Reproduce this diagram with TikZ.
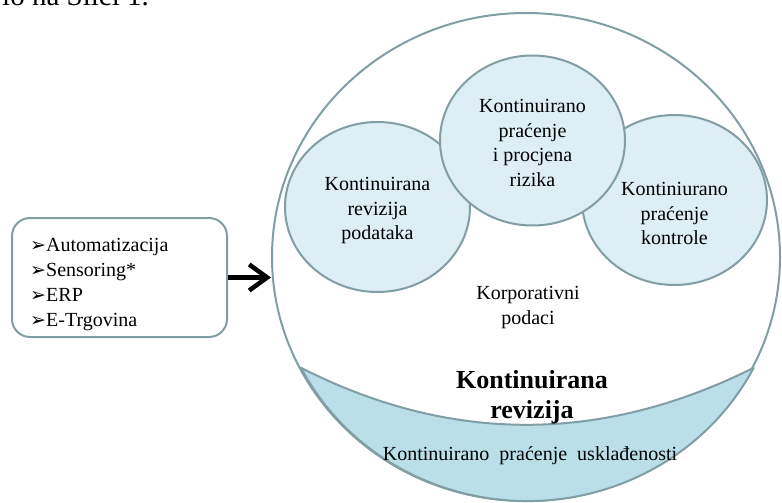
\documentclass[tikz,border=0pt]{standalone}
\usepackage{fontspec}
\setmainfont{Liberation Serif}
\newfontfamily\dejavu{DejaVu Sans}
\usetikzlibrary{shapes.geometric,arrows.meta}
\definecolor{edgec}{HTML}{809EA3}
\definecolor{lightfill}{HTML}{DDEEF4}
\definecolor{bowlfill}{HTML}{BADFE9}
\begin{document}
\begin{tikzpicture}[x=1pt,y=1pt,
  oval/.style={ellipse, draw=edgec, line width=2pt, fill=lightfill,
    minimum width=185pt, minimum height=170pt, inner sep=0pt},
  txt/.style={align=center, inner sep=0pt, font=\fontsize{20}{24.5}\selectfont},
  item/.style={anchor=base west, inner sep=0pt, font=\fontsize{20}{25}\selectfont}]
\useasboundingbox (0,0) rectangle (782,-503);
% cut-off page text at top
\begin{scope}
  \clip (0,0) rectangle (782,-503);
  \node[anchor=base west, inner sep=0pt, font=\fontsize{29}{34}\selectfont] (frag) at (2,-6) {lo na Slici 1.};
\end{scope}
% big circle
\node[ellipse, draw=edgec, line width=2pt, fill=white, minimum width=508pt,
  minimum height=488pt, inner sep=0pt] (big) at (526,-257) {};
% small circles
\node[oval] (c1) at (377.5,-207) {};
\node[oval] (c3) at (674.5,-200) {};
\node[oval] (c2) at (532.5,-140.5) {};
% bowl
\path[fill=bowlfill, draw=edgec, line width=2pt, line join=round]
  (301,-367.8) arc[start angle=207, end angle=333, x radius=254, y radius=244]
  .. controls (601.4,-443.8) and (450.6,-443.8) .. (301,-367.8) -- cycle;
% texts
\node[txt] (t1) at (377.5,-210.6) {Kontinuirana\\revizija\\podataka};
\node[txt] (t2) at (532.5,-142.9) {Kontinuirano\\praćenje\\i procjena\\rizika};
\node[txt] (t3) at (674.5,-213.9) {Kontiniurano\\praćenje\\kontrole};
\node[txt, font=\fontsize{20}{25}\selectfont] (t4) at (528,-307.1) {Korporativni\\podaci};
\node[align=center, inner sep=0pt, font=\bfseries\fontsize{26}{30}\selectfont] (t5) at (532,-397) {Kontinuirana\\revizija};
\node[anchor=base, inner sep=0pt, font=\fontsize{20}{25}\selectfont] (t6) at (530,-460)
  {Kontinuirano\hspace{10pt}praćenje\hspace{10pt}usklađenosti};
% source box
\node[draw=edgec, line width=2pt, rounded corners=18pt, minimum width=215pt,
  minimum height=119pt, inner sep=0pt] (src) at (119.5,-277.5) {};
\newcommand{\blt}{\makebox[16pt][l]{\dejavu\fontsize{19}{19}\selectfont ➢}}
\node[item] (i1) at (30,-251) {\blt Automatizacija};
\node[item] (i2) at (30,-276) {\blt Sensoring*};
\node[item] (i3) at (30,-301) {\blt ERP};
\node[item] (i4) at (30,-326) {\blt E-Trgovina};
% arrow
\draw[line width=4.5pt, -{Straight Barb[length=18pt,width=26pt]}] (src.east) -- (src.east -| big.west);
\end{tikzpicture}
\end{document}
